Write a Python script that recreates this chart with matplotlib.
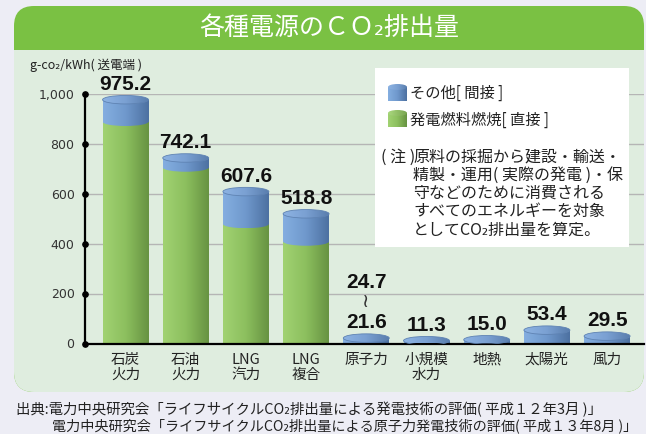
import numpy as np
import matplotlib
matplotlib.use('Agg')
import matplotlib.pyplot as plt
from matplotlib.patches import Rectangle, Ellipse, FancyBboxPatch
from matplotlib.colors import LinearSegmentedColormap

# ---- data ----
categories = ['石炭\n火力', '石油\n火力', 'LNG\n汽力', 'LNG\n複合', '原子力',
              '小規模\n水力', '地熱', '太陽光', '風力']
direct = [887, 704, 478, 408, 0, 0, 0, 0, 0]          # 発電燃料燃焼[直接]
total = [975.2, 742.1, 607.6, 518.8, 21.6, 11.3, 15.0, 53.4, 29.5]
total_labels = ['975.2', '742.1', '607.6', '518.8', '21.6', '11.3', '15.0', '53.4', '29.5']
nuclear_upper_label = '24.7'
yticks = [0, 200, 400, 600, 800, 1000]
ytick_labels = ['0', '200', '400', '600', '800', '1,000']

CJK = ['Noto Sans CJK JP', 'DejaVu Sans']
NUM = ['Liberation Sans', 'DejaVu Sans']

outer_bg = '#ededf5'
header_green = '#7ac143'
body_green = '#dfeddf'

fig = plt.figure(figsize=(6.46, 4.34), dpi=100, facecolor=outer_bg)

# ---- background panel (pixel coords) ----
bg = fig.add_axes([0, 0, 1, 1], zorder=0)
bg.set_xlim(0, 646); bg.set_ylim(434, 0); bg.axis('off')
bg.add_patch(FancyBboxPatch((14, 6), 630, 386, boxstyle='round,pad=0,rounding_size=20',
                            fc=header_green, ec='none'))
bg.add_patch(FancyBboxPatch((14, 50), 630, 342, boxstyle='round,pad=0,rounding_size=20',
                            fc=body_green, ec='none'))
bg.add_patch(Rectangle((14, 50), 630, 30, fc=body_green, ec='none'))

fig.text(329 / 646, 1 - 28 / 434, '各種電源のＣＯ₂排出量', color='white', fontsize=18,
         family=CJK, ha='center', va='center')
fig.text(30 / 646, 1 - 65 / 434, 'g-co₂/kWh( 送電端 )', color='#222222', fontsize=9,
         family=CJK, ha='left', va='center')

# ---- main axes ----
ax = fig.add_axes([85 / 646, (434 - 343.5) / 434, (644 - 85) / 646, 250 / 434], zorder=1)
ax.patch.set_alpha(0)
n = len(categories)
xl = -40.5 / 60.2
ax.set_xlim(xl, xl + 559 / 60.2)
ax.set_ylim(0, 1000)
for s in ['top', 'right']:
    ax.spines[s].set_visible(False)
for s in ['left', 'bottom']:
    ax.spines[s].set_color('black'); ax.spines[s].set_linewidth(1.6)
ax.set_axisbelow(True)
ax.grid(axis='y', color='#b5b5b5', lw=1)
ax.set_yticks(yticks, ytick_labels)
ax.set_xticks(range(n), categories)
ax.tick_params(axis='y', length=0, pad=7.5, labelsize=9, labelcolor='#333333')
ax.tick_params(axis='x', length=0, pad=6.5, labelsize=10.5, labelcolor='#222222')
for t in ax.get_xticklabels():
    t.set_family(CJK); t.set_linespacing(1.15); t.set_verticalalignment('top')
for t in ax.get_yticklabels():
    t.set_family(['DejaVu Sans'])
ax.plot(np.zeros(len(yticks)), yticks, 'o', color='black', ms=3.8,
        transform=ax.get_yaxis_transform(), clip_on=False, zorder=6)

grad = np.linspace(0, 1, 64).reshape(1, -1)
blue_cm = LinearSegmentedColormap.from_list('b', ['#84aee0', '#6f98cc', '#4d71a1'])
cap_cm = LinearSegmentedColormap.from_list('c', ['#8db3e3', '#7aa0d2', '#5a7eae'])
green_cm = LinearSegmentedColormap.from_list('g', ['#a1d272', '#8cbf5e', '#679342'])

bw = 46 / 60.2
cap_h = 34


def gshape(a, x0, x1, y0, y1, cmap, z, ellipse=False, clip_y=0, edge=None):
    if ellipse:
        patch = Ellipse(((x0 + x1) / 2, (y0 + y1) / 2), x1 - x0, y1 - y0,
                        transform=a.transData)
    else:
        patch = Rectangle((x0, y0), x1 - x0, y1 - y0, transform=a.transData)
    lo = max(y0, clip_y) if clip_y is not None else y0
    im = a.imshow(grad, extent=[x0, x1, lo, y1], cmap=cmap, aspect='auto',
                  zorder=z, interpolation='bilinear')
    im.set_clip_path(patch)
    if edge is not None:
        e = Ellipse(((x0 + x1) / 2, (y0 + y1) / 2), x1 - x0, y1 - y0,
                    fc='none', ec=edge, lw=0.6, zorder=z + 0.1)
        a.add_patch(e)
        e.set_clip_box(a.bbox)


for i in range(n):
    x0, x1 = i - bw / 2, i + bw / 2
    gshape(ax, x0, x1, 0, total[i], blue_cm, 2)
    if direct[i] > 0:
        gshape(ax, x0, x1, 0, direct[i], green_cm, 2.2)
        gshape(ax, x0, x1, direct[i] - cap_h / 2, direct[i] + cap_h / 2, blue_cm, 2.4,
               ellipse=True)
    gshape(ax, x0, x1, total[i] - cap_h / 2, total[i] + cap_h / 2, cap_cm, 2.6,
           ellipse=True, edge='#5f83b3')
    ax.annotate(total_labels[i], (i, total[i] + cap_h / 2), xytext=(0, 4.2),
                textcoords='offset points', ha='center', va='baseline', fontsize=15,
                fontweight='bold', family=NUM, color='#111111',
                annotation_clip=False, zorder=7)

# nuclear range label
inuc = categories.index('原子力')
ax.annotate(nuclear_upper_label, (inuc, total[inuc] + cap_h / 2), xytext=(0, 33),
            textcoords='offset points', ha='center', va='baseline', fontsize=15,
            fontweight='bold', family=NUM, color='#111111', annotation_clip=False, zorder=7)
ax.annotate('≀', (inuc, total[inuc] + cap_h / 2), xytext=(-0.8, 23),
            textcoords='offset points', ha='center', va='center', fontsize=14,
            family=['DejaVu Sans', 'Noto Sans CJK JP'], color='#333333',
            annotation_clip=False, zorder=7)

# ---- legend / note overlay (pixel coords) ----
ov = fig.add_axes([0, 0, 1, 1], zorder=3)
ov.set_xlim(0, 646); ov.set_ylim(434, 0); ov.axis('off')
ov.patch.set_alpha(0)
ov.add_patch(Rectangle((375, 68), 254, 179, fc='white', ec='none'))


def icon(y_top, cmap, capcmap):
    x0, x1 = 388, 407
    patch = Rectangle((x0, y_top + 3), x1 - x0, 14, transform=ov.transData)
    im = ov.imshow(grad, extent=[x0, x1, y_top + 17, y_top + 3], cmap=cmap,
                   aspect='auto', zorder=5, interpolation='bilinear')
    im.set_clip_path(patch)
    e = Ellipse(((x0 + x1) / 2, y_top + 3), x1 - x0, 6, transform=ov.transData)
    im2 = ov.imshow(grad, extent=[x0, x1, y_top + 6, y_top], cmap=capcmap,
                    aspect='auto', zorder=5.1, interpolation='bilinear')
    im2.set_clip_path(e)


icon(84, blue_cm, cap_cm)
icon(110, green_cm, LinearSegmentedColormap.from_list('gc', ['#aad87e', '#79a650']))
ov.text(410, 93, 'その他[ 間接 ]', fontsize=11, family=CJK, va='center', ha='left',
        color='#222222')
ov.text(410, 120, '発電燃料燃焼[ 直接 ]', fontsize=11, family=CJK, va='center', ha='left',
        color='#222222')
note_lines = ['原料の採掘から建設・輸送・', '精製・運用( 実際の発電 )・保',
              '守などのために消費される', 'すべてのエネルギーを対象', 'としてCO₂排出量を算定。']
ov.text(381, 157, '( 注 )', fontsize=11.5, family=CJK, va='center', ha='left', color='#222222')
for k, line in enumerate(note_lines):
    ov.text(413, 157 + 18.3 * k, line, fontsize=11.5, family=CJK, va='center', ha='left',
            color='#222222')

# ---- source ----
fig.text(16 / 646, 1 - 409 / 434,
         '出典:電力中央研究会「ライフサイクルCO₂排出量による発電技術の評価( 平成１２年3月 )」',
         fontsize=10.4, family=CJK, va='center', ha='left', color='#222222')
fig.text(52 / 646, 1 - 426 / 434,
         '電力中央研究会「ライフサイクルCO₂排出量による原子力発電技術の評価( 平成１３年8月 )」',
         fontsize=10.2, family=CJK, va='center', ha='left', color='#222222')

fig.savefig('out.png', dpi=100, facecolor=outer_bg)
